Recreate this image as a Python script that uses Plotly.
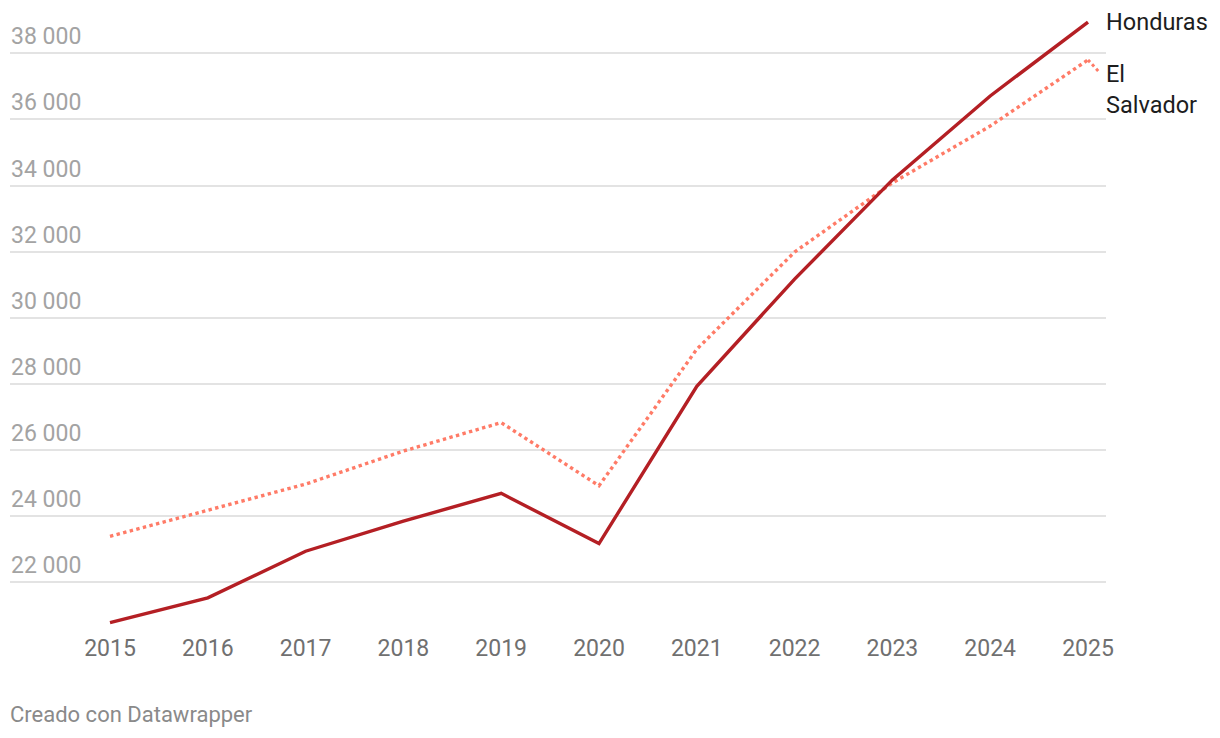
import plotly.graph_objects as go

years = [2015, 2016, 2017, 2018, 2019, 2020, 2021, 2022, 2023, 2024, 2025]
honduras = [20780, 21530, 22940, 23850, 24690, 23170, 27930, 31170, 34170, 36710, 38940]
el_salvador = [23390, 24180, 24970, 25970, 26830, 24920, 29050, 31990, 34080, 35800, 37800]
y_ticks = [22000, 24000, 26000, 28000, 30000, 32000, 34000, 36000, 38000]
y_tick_text = ["22 000", "24 000", "26 000", "28 000", "30 000", "32 000", "34 000", "36 000", "38 000"]

W, H = 1220, 738
ml, mr, mt, mb = 10, 114, 10, 106

# pixel geometry -> axis ranges
x_px_2015, x_px_2025 = 110, 1088
ppy = (x_px_2025 - x_px_2015) / (years[-1] - years[0])
x0 = years[0] - (x_px_2015 - ml) / ppy
x1 = years[-1] + ((W - mr) - x_px_2025) / ppy
y_px_38, y_px_22 = 53.3, 582.3
vpp = (38000 - 22000) / (y_px_22 - y_px_38)
y_top = 38000 + (y_px_38 - mt) * vpp
y_bot = 38000 - ((H - mb) - y_px_38) * vpp

HON = "#b41f24"
ELS = "#ff7b67"

fig = go.Figure()
fig.add_trace(go.Scatter(x=years, y=el_salvador, mode="lines", name="El Salvador",
                         line=dict(color=ELS, width=3.4, dash="dot")))
fig.add_trace(go.Scatter(x=years, y=honduras, mode="lines", name="Honduras",
                         line=dict(color=HON, width=3.4)))

# connector from El Salvador end point to its label
fig.add_shape(type="line", xref="x", yref="y",
              xsizemode="pixel", ysizemode="pixel",
              xanchor=years[-1], yanchor=el_salvador[-1],
              x0=0, x1=12, y0=0, y1=-13,
              line=dict(color=ELS, width=3, dash="dot"))

fig.add_annotation(x=years[-1], y=honduras[-1], xref="x", yref="y",
                   text="Honduras", showarrow=False, xanchor="left", yanchor="middle",
                   xshift=16, yshift=0,
                   font=dict(family="Roboto", size=23.5, color="#1d1d1d"))
fig.add_annotation(x=years[-1], y=el_salvador[-1], xref="x", yref="y",
                   text="El<br>Salvador", showarrow=False, xanchor="left", yanchor="top",
                   xshift=16, yshift=2, align="left",
                   font=dict(family="Roboto", size=23.5, color="#1d1d1d"))

fig.add_annotation(x=0, y=0, xref="paper", yref="paper", xanchor="left", yanchor="middle",
                   text="Creado con Datawrapper", showarrow=False,
                   xshift=-2, yshift=-82,
                   font=dict(family="Roboto", size=22, color="#8a8a8a"))

fig.update_layout(
    width=W, height=H,
    margin=dict(l=ml, r=mr, t=mt, b=mb),
    paper_bgcolor="white", plot_bgcolor="white",
    showlegend=False,
    font=dict(family="Roboto"),
)
fig.update_xaxes(range=[x0, x1], tickmode="array", tickvals=years,
                 ticktext=[str(y) for y in years], showgrid=False, zeroline=False,
                 showline=False, ticks="",
                 tickfont=dict(family="Roboto", size=23, color="#707070"))
fig.update_yaxes(range=[y_bot, y_top], tickmode="array", tickvals=y_ticks,
                 ticktext=y_tick_text, showgrid=True, gridcolor="#e3e3e3", gridwidth=1.5,
                 zeroline=False, showline=False, ticks="",
                 ticklabelposition="inside", ticklabelshift=-17, ticklabelstandoff=-2,
                 tickfont=dict(family="Roboto", size=23, color="#a3a3a3"))

fig.write_html("out.html")
